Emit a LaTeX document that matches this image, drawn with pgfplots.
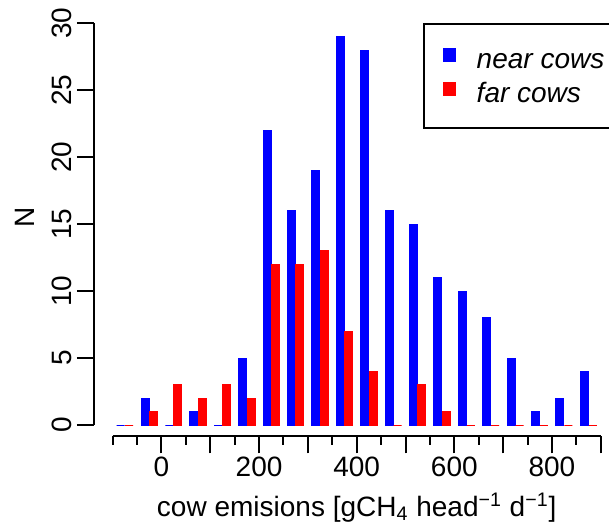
\documentclass[border=0pt]{standalone}
\usepackage{pgfplots}
\pgfplotsset{compat=1.18}
\usepackage{fontspec}
\setmainfont{Liberation Sans}

\definecolor{nearblue}{RGB}{0,0,255}
\definecolor{farred}{RGB}{255,0,0}

\begin{document}
\begin{tikzpicture}[font=\fontsize{14}{16.8}\selectfont]
\begin{axis}[
  x=0.244pt, y=6.695pt,
  xmin=-137.7, xmax=900,
  ymin=-0.82, ymax=30,
  axis x line=bottom, axis y line=left,
  axis line style={draw=none,-},
  clip=false,
  ybar, bar width=16.4,
  tick align=outside,
  major tick length=8.75pt,
  minor tick length=4.5pt,
  tick style={black, line width=1pt},
  xtick={0,100,...,900},
  xticklabels={0,,200,,400,,600,,800,},
  minor xtick={-100,-50,...,900},
  ytick={0,5,...,30},
  /pgf/number format/assume math mode=true,
  yticklabel style={rotate=90, anchor=base, inner sep=0pt, yshift=2.5pt},
  xticklabel style={anchor=north, inner sep=0pt, yshift=-1.5pt},
  xlabel={cow emisions [gCH\textsubscript{4} head\textsuperscript{−1} d\textsuperscript{−1}]},
  xlabel style={at={(axis description cs:0.5182,0)}, anchor=base, yshift=-40.3pt, inner sep=0pt},
  ylabel={N},
  ylabel style={at={(axis description cs:0,0.5305)}, anchor=base, yshift=29.65pt, inner sep=0pt},
  legend style={at={(axis cs:535.9,30.02)}, anchor=north west, draw=black, line width=1pt,
    inner xsep=9.3pt, inner ysep=9pt, row sep=0pt, column sep=10.15pt,
    nodes={inner sep=0pt, text height=13.35pt, text depth=3.65pt, font=\itshape\fontsize{14}{16.8}\selectfont}},
  legend cell align=left,
]
\addplot[fill=nearblue, draw=nearblue, line width=0.5pt, bar shift=-8.7,
  legend image code/.code={\fill[nearblue] (0pt,-1.4pt) rectangle (6.4pt,5.3pt);}]
  coordinates {(-75,0) (-25,2) (25,0) (75,1) (125,0) (175,5) (225,22) (275,16) (325,19) (375,29)
               (425,28) (475,16) (525,15) (575,11) (625,10) (675,8) (725,5) (775,1) (825,2) (875,4)};
\addlegendentry{near cows}
\addplot[fill=farred, draw=farred, line width=0.5pt, bar shift=8.7,
  legend image code/.code={\fill[farred] (0pt,-1.4pt) rectangle (6.4pt,5.3pt);}]
  coordinates {(-75,0) (-25,1) (25,3) (75,2) (125,3) (175,2) (225,12) (275,12) (325,13) (375,7)
               (425,4) (475,0) (525,3) (575,1) (625,0) (675,0) (725,0) (775,0) (825,0) (875,0)};
\addlegendentry{far cows}
% axis lines drawn R-style, not meeting at the corner
\draw[line width=1pt] (axis cs:-100,-0.82) -- (axis cs:900,-0.82);
\draw[line width=1pt] (axis cs:-137.7,0) -- (axis cs:-137.7,30);
\coordinate (bbsw) at (axis cs:-330.9,-7.394);
\coordinate (bbne) at (axis cs:917.0,31.74);
\end{axis}
\pgfresetboundingbox
\path[use as bounding box] (bbsw) rectangle (bbne);
\end{tikzpicture}
\end{document}
